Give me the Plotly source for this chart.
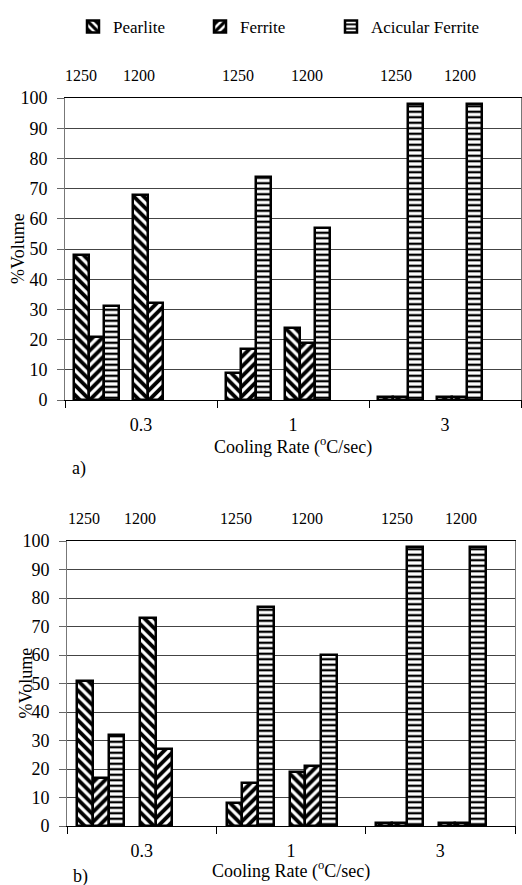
import plotly.graph_objects as go

# ---------------- data ----------------
CATEGORIES = ["0.3", "1", "3"]                 # cooling rate (oC/sec)
TEMPERATURES = ["1250", "1200"]                # austenitising temperature labels
SERIES = ["Pearlite", "Ferrite", "Acicular Ferrite"]

# values ordered: 0.3/1250, 0.3/1200, 1/1250, 1/1200, 3/1250, 3/1200
A_PEARLITE = [48, 68, 9, 24, 1, 1]
A_FERRITE = [21, 32, 17, 19, 1, 1]
A_ACICULAR = [31, 0, 74, 57, 98, 98]

B_PEARLITE = [51, 73, 8, 19, 1, 1]
B_FERRITE = [17, 27, 15, 21, 1, 1]
B_ACICULAR = [32, 0, 77, 60, 98, 98]

Y_TICKS = [0, 10, 20, 30, 40, 50, 60, 70, 80, 90, 100]

# ---------------- layout constants ----------------
W, H = 522, 885
FONT = "Times New Roman, Liberation Serif, DejaVu Serif, serif"
PATTERNS = ["\\", "/", "-"]
PATTERN_SIZE = [7, 7, 5.5]
PATTERN_SOLIDITY = [0.55, 0.55, 0.42]

PANELS = [
    dict(name="a)", xa="x", ya="y", left=65, right=521, top=98, bottom=400,
         bw=0.0974, pad=0.06,
         label_pos=[[0.105, 0.487], [0.138, 0.59], [0.179, 0.596]],
         values=[A_PEARLITE, A_FERRITE, A_ACICULAR],
         ytitle_x=18, xtitle_y=446, tag_xy=(79, 468)),
    dict(name="b)", xa="x2", ya="y2", left=67, right=515, top=541, bottom=826,
         bw=0.105, pad=0.07,
         label_pos=[[0.113, 0.487], [0.134, 0.604], [0.209, 0.64]],
         values=[B_PEARLITE, B_FERRITE, B_ACICULAR],
         ytitle_x=25, xtitle_y=870, tag_xy=(80, 876)),
]


def px_x(v):
    return v / W


def px_y(v):
    return 1 - v / H


fig = go.Figure()
annotations = []

for pi, p in enumerate(PANELS):
    for s, name in enumerate(SERIES):
        xs, ys = [], []
        for ci in range(len(CATEGORIES)):
            for g in range(len(TEMPERATURES)):
                v = p["values"][s][ci * len(TEMPERATURES) + g]
                xs.append(ci + p["pad"] + (g * 4 + s + 0.5) * p["bw"])
                ys.append(v if v else None)
        fig.add_trace(go.Bar(
            x=xs, y=ys, width=p["bw"], name=name,
            xaxis=p["xa"], yaxis=p["ya"],
            showlegend=(pi == 0),
            legend=["legend", "legend2", "legend3"][s],
            marker=dict(color="white",
                        line=dict(color="black", width=2.5),
                        pattern=dict(shape=PATTERNS[s], fgcolor="black",
                                     bgcolor="white", size=PATTERN_SIZE[s],
                                     solidity=PATTERN_SOLIDITY[s])),
        ))
    # temperature labels above each group
    for ci in range(len(CATEGORIES)):
        for g, t in enumerate(TEMPERATURES):
            annotations.append(dict(
                x=ci + p["label_pos"][ci][g], y=px_y(p["top"] - 23),
                xref=p["xa"], yref="paper", text=t, showarrow=False,
                xanchor="center", yanchor="middle",
                font=dict(family=FONT, size=16, color="black")))
    # y title
    annotations.append(dict(
        x=px_x(p["ytitle_x"]), y=px_y((p["top"] + p["bottom"]) / 2),
        xref="paper", yref="paper", text="%Volume", textangle=-90,
        showarrow=False, xanchor="center", yanchor="middle",
        font=dict(family=FONT, size=18, color="black")))
    # x title
    annotations.append(dict(
        x=px_x((p["left"] + p["right"]) / 2), y=px_y(p["xtitle_y"]),
        xref="paper", yref="paper", text="Cooling Rate (<sup>o</sup>C/sec)",
        showarrow=False, xanchor="center", yanchor="middle",
        font=dict(family=FONT, size=18, color="black")))
    # panel tag
    annotations.append(dict(
        x=px_x(p["tag_xy"][0]), y=px_y(p["tag_xy"][1]),
        xref="paper", yref="paper", text=p["name"], showarrow=False,
        xanchor="center", yanchor="middle",
        font=dict(family=FONT, size=18, color="black")))

axis_common_x = dict(
    range=[0, len(CATEGORIES)], automargin=False,
    tickvals=[i + 0.5 for i in range(len(CATEGORIES))],
    ticktext=CATEGORIES, ticks="", showgrid=False, zeroline=False,
    showline=True, linecolor="black", linewidth=1, mirror=True,
    tickfont=dict(family=FONT, size=18, color="black"),
    ticklabelstandoff=8,
    minor=dict(tick0=0, dtick=1, ticks="outside", ticklen=7,
               tickcolor="black", tickwidth=1, showgrid=False),
    fixedrange=True,
)
axis_common_y = dict(
    range=[0, 100], tickvals=Y_TICKS, ticks="outside", ticklen=7,
    automargin=False,
    tickcolor="#666", showgrid=True, gridcolor="#444", gridwidth=1,
    zeroline=False, showline=True, linecolor="#777", linewidth=1, mirror=True,
    tickfont=dict(family=FONT, size=18, color="black"),
    ticklabelstandoff=6, fixedrange=True,
)

p0, p1 = PANELS
fig.update_layout(
    template="none",
    width=W, height=H, margin=dict(l=0, r=0, t=0, b=0, pad=0, autoexpand=False),
    paper_bgcolor="white", plot_bgcolor="white",
    font=dict(family=FONT, color="black"),
    barmode="overlay", bargap=0,
    xaxis=dict(axis_common_x, domain=[px_x(p0["left"]), px_x(p0["right"])], anchor="y"),
    yaxis=dict(axis_common_y, domain=[px_y(p0["bottom"]), px_y(p0["top"])], anchor="x"),
    xaxis2=dict(axis_common_x, domain=[px_x(p1["left"]), px_x(p1["right"])], anchor="y2"),
    yaxis2=dict(axis_common_y, domain=[px_y(p1["bottom"]), px_y(p1["top"])], anchor="x2"),
    annotations=annotations,
)

legend_common = dict(orientation="h", yref="paper", xref="paper",
                     y=px_y(27), yanchor="middle", xanchor="left",
                     bgcolor="rgba(0,0,0,0)", borderwidth=0,
                     font=dict(family=FONT, size=17, color="black"))
fig.update_layout(
    legend=dict(legend_common, x=px_x(73)),
    legend2=dict(legend_common, x=px_x(200)),
    legend3=dict(legend_common, x=px_x(331)),
)

fig.write_html("out.html")
